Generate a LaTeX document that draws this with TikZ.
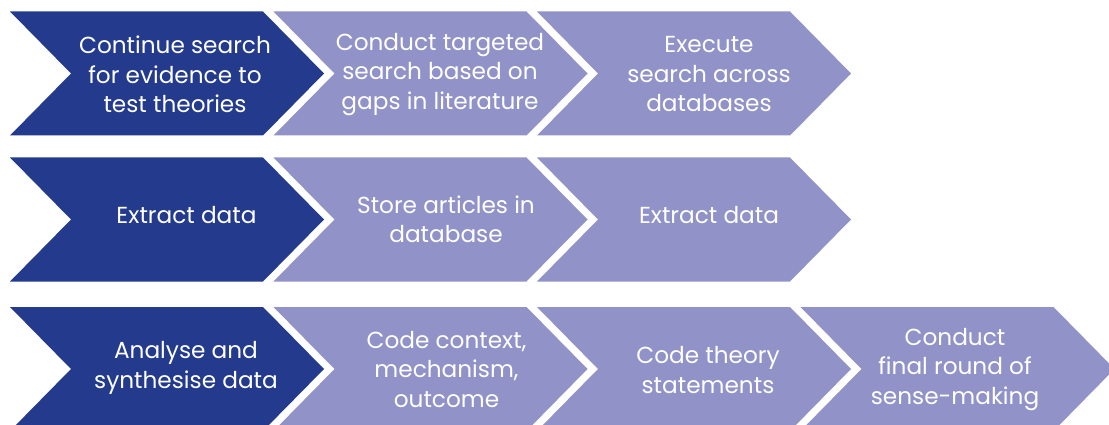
\documentclass[tikz,border=0pt]{standalone}
\usepackage{fontspec}
\setmainfont{Poppins}
\usepackage{tikz}

\begin{document}
\begin{tikzpicture}[x=1pt, y=-1pt,
		darkstep/.style={fill={DARK_BLUE!100}},
		lightstep/.style={fill={LAVENDER!100}},
		steptext/.style={text=white, align={center}, inner sep=0pt, font={\fontsize{23.2}{29.5}\selectfont}}]
				\definecolor{DARK_BLUE}{RGB}{35, 58, 141}
				\definecolor{LAVENDER}{RGB}{145, 146, 199}
				\useasboundingbox (0.0, 0.0) rectangle (1109.0, 425.0);
				% first row
				\fill[darkstep] (10.0, 11.5) -- (263.0, 11.5) -- (324.0, 73.5) -- (263.0, 135.5) -- (10.0, 135.5) -- (71.0, 73.5) -- cycle;
				\fill[lightstep] (273.5, 11.5) -- (526.5, 11.5) -- (587.5, 73.5) -- (526.5, 135.5) -- (273.5, 135.5) -- (334.5, 73.5) -- cycle;
				\fill[lightstep] (537.0, 11.5) -- (790.0, 11.5) -- (851.0, 73.5) -- (790.0, 135.5) -- (537.0, 135.5) -- (598.0, 73.5) -- cycle;
				% second row
				\fill[darkstep] (10.0, 157.5) -- (263.0, 157.5) -- (324.0, 219.5) -- (263.0, 281.5) -- (10.0, 281.5) -- (71.0, 219.5) -- cycle;
				\fill[lightstep] (273.5, 157.5) -- (526.5, 157.5) -- (587.5, 219.5) -- (526.5, 281.5) -- (273.5, 281.5) -- (334.5, 219.5) -- cycle;
				\fill[lightstep] (537.0, 157.5) -- (790.0, 157.5) -- (851.0, 219.5) -- (790.0, 281.5) -- (537.0, 281.5) -- (598.0, 219.5) -- cycle;
				% third row
				\fill[darkstep] (10.0, 307.0) -- (263.0, 307.0) -- (324.0, 369.0) -- (263.0, 431.0) -- (10.0, 431.0) -- (71.0, 369.0) -- cycle;
				\fill[lightstep] (273.5, 307.0) -- (526.5, 307.0) -- (587.5, 369.0) -- (526.5, 431.0) -- (273.5, 431.0) -- (334.5, 369.0) -- cycle;
				\fill[lightstep] (537.0, 307.0) -- (790.0, 307.0) -- (851.0, 369.0) -- (790.0, 431.0) -- (537.0, 431.0) -- (598.0, 369.0) -- cycle;
				\fill[lightstep] (800.5, 307.0) -- (1053.5, 307.0) -- (1114.5, 369.0) -- (1053.5, 431.0) -- (800.5, 431.0) -- (861.5, 369.0) -- cycle;
				\node[steptext] (s11) at (175.0, 74.5) {Continue search\\for evidence to\\test theories};
				\node[steptext] (s12) at (440.0, 74.5) {Conduct targeted\\search based on\\gaps in literature};
				\node[steptext] (s13) at (709.0, 74.5) {Execute\\search across\\databases};
				\node[steptext] (s21) at (186.5, 215.0) {Extract data};
				\node[steptext] (s22) at (446.0, 219.5) {Store articles in\\database};
				\node[steptext] (s23) at (709.0, 215.0) {Extract data};
				\node[steptext] (s31) at (186.0, 368.0) {Analyse and\\synthesise data};
				\node[steptext] (s32) at (446.5, 369.5) {Code context,\\mechanism,\\outcome};
				\node[steptext] (s33) at (708.0, 370.0) {Code theory\\statements};
				\node[steptext] (s34) at (955.0, 369.5) {Conduct\\final round of\\sense-making};
			\end{tikzpicture}
\end{document}
